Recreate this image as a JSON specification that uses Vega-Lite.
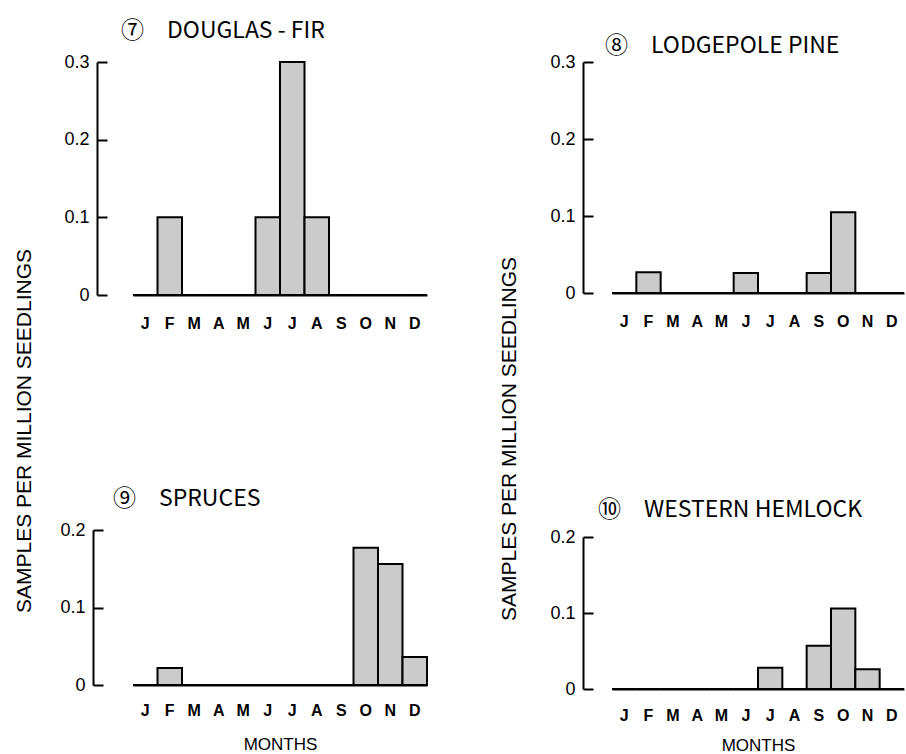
{
  "$schema": "https://vega.github.io/schema/vega-lite/v6.json",
  "background": "white",
  "padding": {"left": 13, "top": 20, "right": 0, "bottom": 0},
  "config": {
    "view": {"stroke": null},
    "font": "Liberation Sans",
    "title": {"font": "Noto Sans CJK JP", "fontWeight": "normal", "color": "black"},
    "axis": {
      "labelFont": "Liberation Sans",
      "labelFontSize": 16,
      "labelColor": "black",
      "domainColor": "black",
      "tickColor": "black",
      "titleFont": "Liberation Sans",
      "titleFontWeight": "normal",
      "titleColor": "black",
      "titleFontSize": 17,
      "grid": false
    },
    "axisY": {"labelFontSize": 18}
  },
  "datasets": {
    "douglas": [
      {"month": "Jan", "value": 0}, {"month": "Feb", "value": 0.1}, {"month": "Mar", "value": 0},
      {"month": "Apr", "value": 0}, {"month": "May", "value": 0}, {"month": "Jun", "value": 0.1},
      {"month": "Jul", "value": 0.3}, {"month": "Aug", "value": 0.1}, {"month": "Sep", "value": 0},
      {"month": "Oct", "value": 0}, {"month": "Nov", "value": 0}, {"month": "Dec", "value": 0}
    ],
    "spruces": [
      {"month": "Jan", "value": 0}, {"month": "Feb", "value": 0.022}, {"month": "Mar", "value": 0},
      {"month": "Apr", "value": 0}, {"month": "May", "value": 0}, {"month": "Jun", "value": 0},
      {"month": "Jul", "value": 0}, {"month": "Aug", "value": 0}, {"month": "Sep", "value": 0},
      {"month": "Oct", "value": 0.177}, {"month": "Nov", "value": 0.156}, {"month": "Dec", "value": 0.036}
    ],
    "lodgepole": [
      {"month": "Jan", "value": 0}, {"month": "Feb", "value": 0.027}, {"month": "Mar", "value": 0},
      {"month": "Apr", "value": 0}, {"month": "May", "value": 0}, {"month": "Jun", "value": 0.026},
      {"month": "Jul", "value": 0}, {"month": "Aug", "value": 0}, {"month": "Sep", "value": 0.026},
      {"month": "Oct", "value": 0.105}, {"month": "Nov", "value": 0}, {"month": "Dec", "value": 0}
    ],
    "hemlock": [
      {"month": "Jan", "value": 0}, {"month": "Feb", "value": 0}, {"month": "Mar", "value": 0},
      {"month": "Apr", "value": 0}, {"month": "May", "value": 0}, {"month": "Jun", "value": 0},
      {"month": "Jul", "value": 0.028}, {"month": "Aug", "value": 0}, {"month": "Sep", "value": 0.057},
      {"month": "Oct", "value": 0.106}, {"month": "Nov", "value": 0.026}, {"month": "Dec", "value": 0}
    ]
  },
  "spacing": 70,
  "hconcat": [
    {
      "title": {"text": "SAMPLES PER MILLION SEEDLINGS", "orient": "left", "anchor": "middle", "font": "Liberation Sans", "fontSize": 21, "offset": 25, "dx": -45},
      "spacing": 157,
      "vconcat": [
        {
          "data": {"name": "douglas"},
          "title": {"text": "⑦　DOUGLAS - FIR", "anchor": "start", "frame": "group", "fontSize": 23, "offset": 10, "dx": -12},
          "width": 294,
          "height": 233,
          "mark": {"type": "bar", "fill": "#cbcbcb", "stroke": "black", "strokeWidth": 2},
          "encoding": {
            "x": {
              "field": "month", "type": "nominal", "sort": null,
              "scale": {"domain": ["Jan","Feb","Mar","Apr","May","Jun","Jul","Aug","Sep","Oct","Nov","Dec"], "paddingInner": 0, "paddingOuter": 0},
              "axis": {"title": null, "labelExpr": "substring(datum.label,0,1)", "labelAngle": 0, "ticks": false, "labelPadding": 20, "domainWidth": 2, "labelFontWeight": "bold"}
            },
            "y": {
              "field": "value", "type": "quantitative",
              "scale": {"domain": [0, 0.3], "nice": false},
              "axis": {"title": null, "values": [0, 0.1, 0.2, 0.3], "format": "~g", "offset": 36, "tickSize": -10, "labelPadding": 18, "domainWidth": 2, "tickWidth": 2}
            }
          }
        },
        {
          "data": {"name": "spruces"},
          "title": {"text": "⑨　SPRUCES", "anchor": "start", "frame": "group", "fontSize": 23, "offset": 10, "dx": -20},
          "width": 294,
          "height": 155,
          "mark": {"type": "bar", "fill": "#cbcbcb", "stroke": "black", "strokeWidth": 2},
          "encoding": {
            "x": {
              "field": "month", "type": "nominal", "sort": null,
              "scale": {"domain": ["Jan","Feb","Mar","Apr","May","Jun","Jul","Aug","Sep","Oct","Nov","Dec"], "paddingInner": 0, "paddingOuter": 0},
              "axis": {"title": "MONTHS", "titlePadding": 18, "labelExpr": "substring(datum.label,0,1)", "labelAngle": 0, "ticks": false, "labelPadding": 17, "domainWidth": 2, "labelFontWeight": "bold"}
            },
            "y": {
              "field": "value", "type": "quantitative",
              "scale": {"domain": [0, 0.2], "nice": false},
              "axis": {"title": null, "values": [0, 0.1, 0.2], "format": "~g", "offset": 40, "tickSize": -10, "labelPadding": 18, "domainWidth": 2, "tickWidth": 2}
            }
          }
        }
      ]
    },
    {
      "title": {"text": "SAMPLES PER MILLION SEEDLINGS", "orient": "left", "anchor": "middle", "font": "Liberation Sans", "fontSize": 21, "offset": 30, "dx": -45},
      "spacing": 170,
      "vconcat": [
        {
          "data": {"name": "lodgepole"},
          "title": {"text": "⑧　LODGEPOLE PINE", "anchor": "start", "frame": "group", "fontSize": 23, "offset": 4, "dx": -7, "dy": 9},
          "width": 292,
          "height": 231,
          "mark": {"type": "bar", "fill": "#cbcbcb", "stroke": "black", "strokeWidth": 2},
          "encoding": {
            "x": {
              "field": "month", "type": "nominal", "sort": null,
              "scale": {"domain": ["Jan","Feb","Mar","Apr","May","Jun","Jul","Aug","Sep","Oct","Nov","Dec"], "paddingInner": 0, "paddingOuter": 0},
              "axis": {"title": null, "labelExpr": "substring(datum.label,0,1)", "labelAngle": 0, "ticks": false, "labelPadding": 20, "domainWidth": 2, "labelFontWeight": "bold"}
            },
            "y": {
              "field": "value", "type": "quantitative",
              "scale": {"domain": [0, 0.3], "nice": false},
              "axis": {"title": null, "values": [0, 0.1, 0.2, 0.3], "format": "~g", "offset": 29, "tickSize": -10, "labelPadding": 18, "domainWidth": 2, "tickWidth": 2}
            }
          }
        },
        {
          "data": {"name": "hemlock"},
          "title": {"text": "⑩　WESTERN HEMLOCK", "anchor": "start", "frame": "group", "fontSize": 23, "offset": 6, "dx": -14},
          "width": 292,
          "height": 152,
          "mark": {"type": "bar", "fill": "#cbcbcb", "stroke": "black", "strokeWidth": 2},
          "encoding": {
            "x": {
              "field": "month", "type": "nominal", "sort": null,
              "scale": {"domain": ["Jan","Feb","Mar","Apr","May","Jun","Jul","Aug","Sep","Oct","Nov","Dec"], "paddingInner": 0, "paddingOuter": 0},
              "axis": {"title": "MONTHS", "titlePadding": 14, "labelExpr": "substring(datum.label,0,1)", "labelAngle": 0, "ticks": false, "labelPadding": 18, "domainWidth": 2, "labelFontWeight": "bold"}
            },
            "y": {
              "field": "value", "type": "quantitative",
              "scale": {"domain": [0, 0.2], "nice": false},
              "axis": {"title": null, "values": [0, 0.1, 0.2], "format": "~g", "offset": 29, "tickSize": -10, "labelPadding": 18, "domainWidth": 2, "tickWidth": 2}
            }
          }
        }
      ]
    }
  ]
}
